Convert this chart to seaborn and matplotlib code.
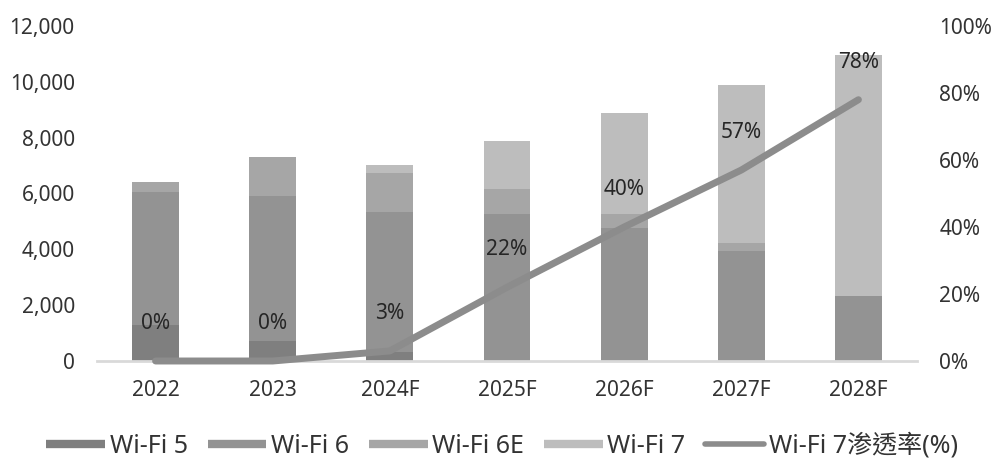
import numpy as np
import pandas as pd
import matplotlib
matplotlib.use("Agg")
import matplotlib.pyplot as plt
import seaborn as sns
from matplotlib.lines import Line2D
from matplotlib.ticker import FuncFormatter, PercentFormatter

# ---- data ----
years = ['2022', '2023', '2024F', '2025F', '2026F', '2027F', '2028F']
wifi5 = [1300, 700, 330, 0, 0, 0, 0]
wifi6 = [4750, 5200, 5000, 5260, 4760, 3940, 2330]
wifi6e = [350, 1400, 1400, 900, 500, 280, 0]
wifi7 = [0, 0, 290, 1720, 3620, 5660, 8620]
penetration = [0, 0, 3, 22, 40, 57, 78]
series_names = ['Wi-Fi 5', 'Wi-Fi 6', 'Wi-Fi 6E', 'Wi-Fi 7']
line_name = 'Wi-Fi 7渗透率(%)'

colors = ['#7f7f7f', '#939393', '#a6a6a6', '#bdbdbd']
line_color = '#8c8c8c'
text_color = '#333333'

sns.set_theme(style='white')
plt.rcParams['font.family'] = ['Noto Sans', 'Noto Sans CJK TC', 'DejaVu Sans']
plt.rcParams['font.size'] = 15

fig = plt.figure(figsize=(9.96, 4.59), dpi=100)
ax = fig.add_axes([97 / 996, 1 - 361 / 459, (917 - 97) / 996, (361 - 26) / 459])

layers = [wifi5, wifi6, wifi6e, wifi7]
cum = np.cumsum(np.array(layers, dtype=float), axis=0)
df = pd.DataFrame({'year': years})
for i in reversed(range(len(layers))):
    df['cum'] = cum[i]
    sns.barplot(data=df, x='year', y='cum', color=colors[i], width=0.4,
                saturation=1, ax=ax, errorbar=None, linewidth=0,
                edgecolor=colors[i])

ax.set_ylim(0, 12000)
ax.set_yticks(np.arange(0, 12001, 2000))
ax.yaxis.set_major_formatter(FuncFormatter(lambda v, p: f'{v:,.0f}'))
ax.set_xlabel('')
ax.set_ylabel('')
ax.tick_params(axis='y', length=0, pad=16, labelsize=15, labelcolor=text_color)
ax.tick_params(axis='x', length=0, pad=14, labelsize=15, labelcolor=text_color)
for s in ['left', 'right', 'top']:
    ax.spines[s].set_visible(False)
ax.spines['bottom'].set_color('#d9d9d9')
ax.spines['bottom'].set_linewidth(2)

ax2 = ax.twinx()
xpos = np.arange(len(years))
pen = np.array(penetration) / 100.0
sns.lineplot(x=xpos, y=pen, ax=ax2, color=line_color, lw=5,
             solid_capstyle='round', clip_on=False)
ax2.set_ylim(0, 1.0)
ax2.set_yticks(np.arange(0, 1.01, 0.2))
ax2.yaxis.set_major_formatter(PercentFormatter(1.0, decimals=0))
ax2.tick_params(axis='y', length=0, pad=16, labelsize=15, labelcolor=text_color)
for s in ax2.spines.values():
    s.set_visible(False)
ax2.set_ylabel('')
ax.set_xlim(-0.5, len(years) - 0.5)
ax2.set_xlim(-0.5, len(years) - 0.5)

for i, p in enumerate(penetration):
    ax2.annotate(f'{p}%', (xpos[i], pen[i]), xytext=(0, 27),
                 textcoords='offset points', ha='center', va='center',
                 fontsize=15, color='#262626')

handles = [Line2D([0], [0], color=c, lw=6, solid_capstyle='butt') for c in colors]
handles.append(Line2D([0], [0], color=line_color, lw=4, solid_capstyle='round'))
fig.legend(handles, series_names + [line_name], loc='center',
           bbox_to_anchor=(0.504, 1 - 446 / 459), ncol=5, frameon=False,
           fontsize=18, handlelength=2.35, handletextpad=0.18,
           columnspacing=0.8, labelcolor=text_color, borderaxespad=0,
           borderpad=0)

fig.savefig('out.png', dpi=100)
